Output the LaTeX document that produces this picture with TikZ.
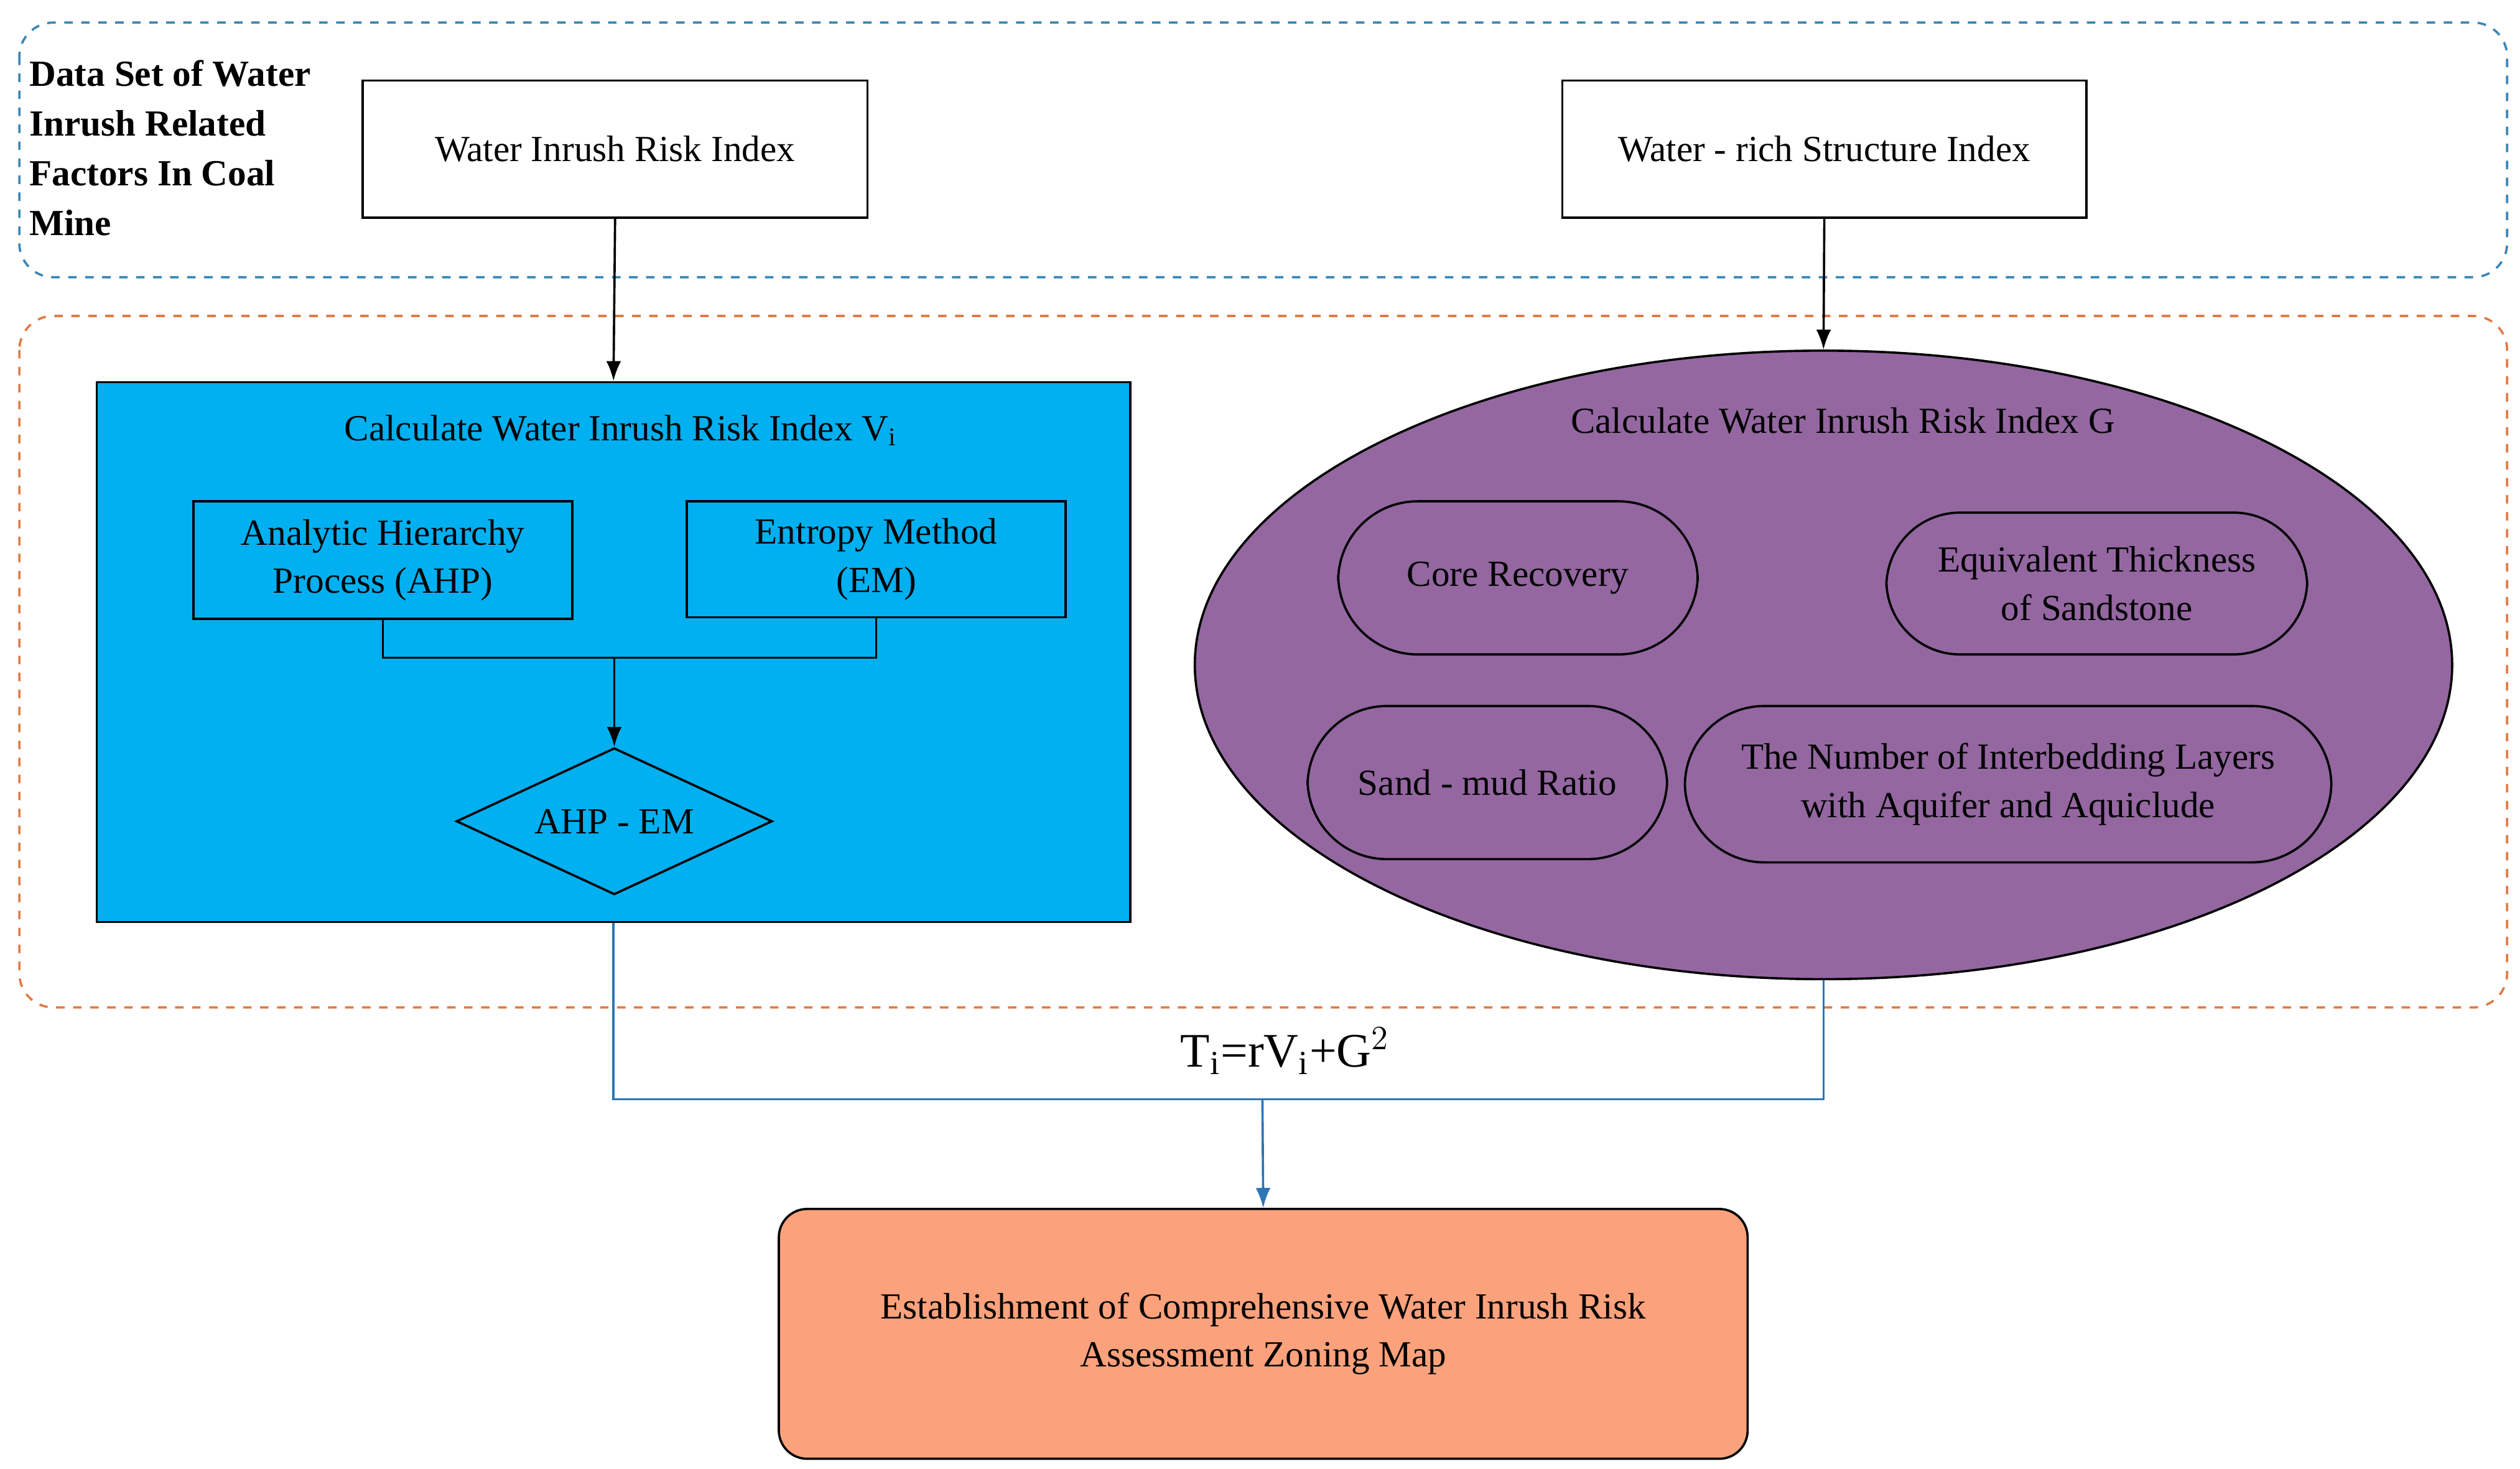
\documentclass[tikz,border=0pt]{standalone}
\usepackage{fontspec}
\setmainfont{Liberation Serif}
\usetikzlibrary{shapes.geometric,arrows.meta}
\definecolor{dblue}{HTML}{3A86B4}
\definecolor{dorange}{HTML}{E07B45}
\definecolor{cyanfill}{HTML}{00B0F0}
\definecolor{purp}{HTML}{9467A1}
\definecolor{salmon}{HTML}{FBA27C}
\definecolor{lblue}{HTML}{2E75B6}
\begin{document}
\begin{tikzpicture}[x=0.02cm,y=-0.02cm,
  txt/.style={font=\fontsize{13}{17}\selectfont,align=center},
  box/.style={draw,thick,txt,inner sep=0pt},
  rbox/.style={draw,thick,txt,rounded corners=22pt,inner sep=0pt},
  arr/.style={-{Latex[length=7pt]},thick}]
\useasboundingbox (0,0) rectangle (1563,911);
\draw[dblue,thick,dashed,rounded corners=12pt] (12,14) rectangle (1555,172);
\draw[dorange,thick,dashed,rounded corners=12pt] (12,196) rectangle (1555,625);
\node[anchor=north west,font=\fontsize{13}{17.6}\selectfont\bfseries,align=left,inner sep=0pt] (lab) at (18,37) {Data Set of Water\\Inrush Related\\Factors In Coal\\Mine};
\node[box,minimum width=6.26cm,minimum height=1.7cm] (b1) at (381.5,92.5) {Water Inrush Risk Index};
\node[box,minimum width=6.5cm,minimum height=1.7cm] (b2) at (1131.5,92.5) {Water - rich Structure Index};
\node[draw,thick,fill=cyanfill,minimum width=12.82cm,minimum height=6.7cm,inner sep=0pt] (blue) at (380.5,404.5) {};
\node[txt] (t1) at (385,267) {Calculate Water Inrush Risk Index V$_{\mathrm{i}}$};
\node[box,minimum width=4.7cm,minimum height=1.46cm] (ahp) at (237.5,347.5) {Analytic Hierarchy\\Process (AHP)};
\node[box,minimum width=4.7cm,minimum height=1.44cm] (em) at (543.5,347) {Entropy Method\\(EM)};
\node[draw,thick,diamond,aspect=2.15,minimum width=3.92cm,minimum height=1.82cm,inner sep=0pt,txt] (dia) at (381,509.5) {AHP - EM};
\coordinate (j) at (381,408);
\draw[thick] (ahp.south) |- (j) -| (em.south);
\draw[arr] (j) -- (dia.north);
\node[draw,thick,ellipse,fill=purp,minimum width=15.6cm,minimum height=7.8cm,inner sep=0pt] (ell) at (1131,412.5) {};
\node[txt] (t2) at (1143,261) {Calculate Water Inrush Risk Index G};
\node[rbox,minimum width=4.46cm,minimum height=1.9cm,rounded corners=28pt] (cr) at (941.5,358.5) {Core Recovery};
\node[rbox,minimum width=5.22cm,minimum height=1.76cm,rounded corners=26pt] (eq) at (1300.5,362) {Equivalent Thickness\\of Sandstone};
\node[rbox,minimum width=4.46cm,minimum height=1.9cm,rounded corners=28pt] (sm) at (922.5,485.5) {Sand - mud Ratio};
\node[rbox,minimum width=8.02cm,minimum height=1.94cm,rounded corners=28pt] (nl) at (1245.5,486.5) {The Number of Interbedding Layers\\with Aquifer and Aquiclude};
\draw[arr] (b1.south) -- (blue.north);
\draw[arr] (b2.south) -- (ell.north);
\coordinate (m) at (783,682);
\draw[lblue,thick] (blue.south) |- (m) -| (ell.south);
\node[font=\fontsize{17}{20}\selectfont] (f) at (797,652) {T$_{\mathrm{i}}$=rV$_{\mathrm{i}}$+G$^{2}$};
\node[draw,thick,fill=salmon,rounded corners=10pt,minimum width=12.02cm,minimum height=3.1cm,txt,inner sep=0pt] (fin) at (783.5,827.5) {Establishment of Comprehensive Water Inrush Risk\\Assessment Zoning Map};
\draw[arr,lblue] (m) -- (fin.north);
\end{tikzpicture}
\end{document}
